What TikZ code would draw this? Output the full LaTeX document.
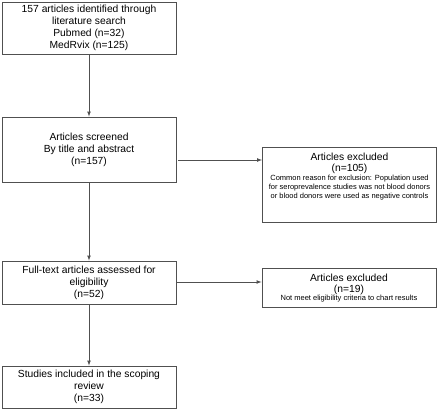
\documentclass[tikz,border=0pt]{standalone}
\usepackage{fontspec}
\setmainfont{Liberation Sans}
\usepackage{tikz}
\usetikzlibrary{arrows}
\usetikzlibrary{positioning}

\definecolor{boxgray}{RGB}{80,80,80}
\tikzset{
  stagebox/.style={rectangle, draw=boxgray, line width=0.9pt, align=center, inner sep=0pt,
    minimum width=174pt, font=\fontsize{10.3}{12}\selectfont},
  titletext/.style={align=center, inner sep=0pt, font=\fontsize{10.3}{10.8}\selectfont},
  smalltext/.style={align=center, inner sep=0pt, font=\fontsize{7.5}{9}\selectfont},
  flow/.style={-latex, draw=boxgray, line width=0.7pt}
}

\begin{document}
\begin{tikzpicture}[x=1pt, y=-1pt]
\useasboundingbox (0,0) rectangle (440,410);
% main column
\node [stagebox, minimum height=52pt] (ident) at (89,28) {157 articles identified through\\literature search\\Pubmed (n=32)\\MedRvix (n=125)};
\node [stagebox, minimum height=65pt] (screen) at (89,149.5) {Articles screened\\By title and abstract\\(n=157)};
\node [stagebox, minimum height=43pt] (fulltext) at (89,282.5) {Full-text articles assessed for\\eligibility\\(n=52)};
\node [stagebox, minimum height=42pt] (incl) at (89,387) {Studies included in the scoping\\review\\(n=33)};
% exclusions
\node [stagebox, minimum height=75pt] (excla) at (349.5,184.5) {};
\node [titletext, anchor=north] (exclatitle) at ([yshift=-6pt]excla.north) {Articles excluded\\(n=105)};
\node [smalltext, anchor=north] (exclatext) at ([yshift=-1.3pt]exclatitle.south) {Common reason for exclusion: Population used\\for seroprevalence studies was not blood donors\\or blood donors were used as negative controls};
\node [stagebox, minimum height=39pt] (exclb) at (349,287.5) {};
\node [titletext, anchor=north] (exclbtitle) at ([yshift=-6pt]exclb.north) {Articles excluded\\(n=19)};
\node [smalltext, anchor=north] (exclbtext) at ([yshift=-0.5pt]exclbtitle.south) {Not meet eligibility criteria to chart results};
% connectors
\draw [flow] (ident) to (screen);
\draw [flow] (screen) to (fulltext);
\draw [flow] (fulltext) to (incl);
\draw [flow, shorten <=2pt] (screen.east |- 0,160) to (excla.west |- 0,160);
\draw [flow, shorten <=1pt] (fulltext.east |- 0,282) to (exclb.west |- 0,282);
\end{tikzpicture}
\end{document}
